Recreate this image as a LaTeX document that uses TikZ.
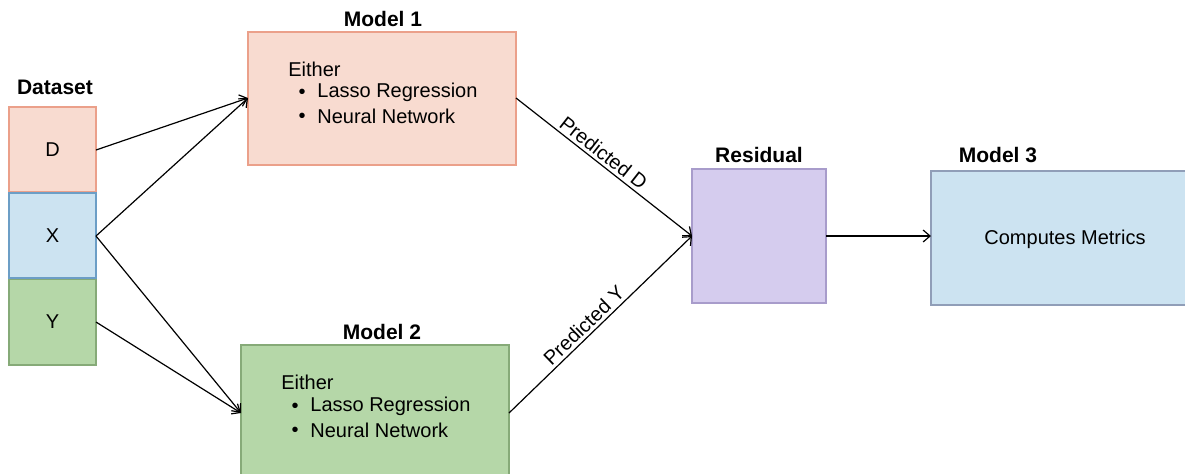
\documentclass[tikz,border=0pt]{standalone}
\usepackage{fontspec}
\setmainfont{Liberation Sans}
\usetikzlibrary{arrows.meta}
\definecolor{dfill}{HTML}{F8DBD0}
\definecolor{dline}{HTML}{EBA08A}
\definecolor{xfill}{HTML}{CCE3F1}
\definecolor{xline}{HTML}{6C9EC6}
\definecolor{yfill}{HTML}{B5D7A8}
\definecolor{yline}{HTML}{86AA78}
\definecolor{rfill}{HTML}{D5CCEE}
\definecolor{rline}{HTML}{A89CCB}
\definecolor{mline}{HTML}{909EB8}
\tikzset{
  box/.style={draw, line width=0.6pt, inner sep=0pt},
  ttl/.style={font=\fontsize{10.5}{12}\selectfont\bfseries},
  txt/.style={font=\fontsize{10}{12}\selectfont, inner sep=0pt},
  conn/.style={draw, line width=0.6pt, -{Straight Barb[length=3.5pt,width=6pt]}},
  lbl/.style={font=\fontsize{10}{12}\selectfont, sloped, above, inner sep=1.5pt}
}
\begin{document}
\begin{tikzpicture}[x=0.5pt,y=-0.5pt]
\useasboundingbox (0,0) rectangle (1185,473);
% dataset
\node[ttl] (dstitle) at (55,87) {Dataset};
\draw[box, fill=dfill, draw=dline] (9,107) rectangle (96,192);
\node[txt] (d) at (52.5,150) {D};
\coordinate (dE) at (96,150);
\draw[box, fill=yfill, draw=yline] (9,279) rectangle (96,365);
\node[txt] (y) at (52.5,322) {Y};
\coordinate (yE) at (96,322);
\draw[box, fill=xfill, draw=xline] (9,193) rectangle (96,278);
\node[txt] (x) at (52.5,236) {X};
\coordinate (xE) at (96,236);
% model 1
\node[ttl] (m1title) at (383,19) {Model 1};
\draw[box, fill=dfill, draw=dline] (248,32) rectangle (516,165);
\coordinate (m1W) at (248,98);
\coordinate (m1E) at (516,98);
\node[txt, anchor=west] (m1a) at (288,69) {Either};
\node[txt] (m1b1) at (302,94) {\textbullet};
\node[txt, anchor=west] (m1b) at (317,92) {Lasso Regression};
\node[txt] (m1c1) at (302,118) {\textbullet};
\node[txt, anchor=west] (m1c) at (317,116) {Neural Network};
% model 2
\node[ttl] (m2title) at (382,332) {Model 2};
\draw[box, fill=yfill, draw=yline] (241,345) rectangle (509,480);
\coordinate (m2W) at (241,413);
\coordinate (m2E) at (509,413);
\node[txt, anchor=west] (m2a) at (281,382) {Either};
\node[txt] (m2b1) at (295,408) {\textbullet};
\node[txt, anchor=west] (m2b) at (310,406) {Lasso Regression};
\node[txt] (m2c1) at (295,432) {\textbullet};
\node[txt, anchor=west] (m2c) at (310,430) {Neural Network};
% residual
\node[ttl] (rtitle) at (759,155) {Residual};
\draw[box, fill=rfill, draw=rline] (692,169) rectangle (826,303);
\coordinate (rW) at (692,236);
\coordinate (rE) at (826,236);
% model 3
\node[ttl] (m3title) at (998,155) {Model 3};
\draw[box, fill=xfill, draw=mline] (931,171) rectangle (1192,305);
\coordinate (m3W) at (931,236);
\node[txt] (m3t) at (1065,239) {Computes Metrics};
% connectors
\draw[conn] (dE) -- (m1W);
\draw[conn] (xE) -- (m1W);
\draw[conn] (xE) -- (m2W);
\draw[conn] (yE) -- (m2W);
\draw[conn] (m1E) -- node[lbl, pos=0.46] {Predicted D} (rW);
\draw[conn] (m2E) -- node[lbl, pos=0.45] {Predicted Y} (rW);
\draw[conn] (rE) -- (m3W);
\end{tikzpicture}
\end{document}
